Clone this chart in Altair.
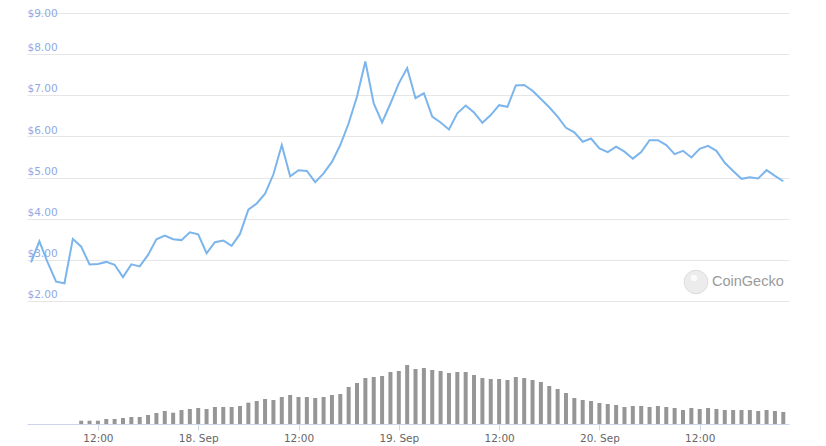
import altair as alt
import pandas as pd

# hourly prices (USD), 17 Sep 04:00 -> 20 Sep 22:00
price = [2.94, 3.45, 2.93, 2.47, 2.43, 3.51, 3.32, 2.89, 2.90, 2.95,
         2.88, 2.58, 2.89, 2.84, 3.12, 3.50, 3.59, 3.50, 3.48, 3.67,
         3.62, 3.16, 3.43, 3.47, 3.34, 3.63, 4.22, 4.37, 4.61, 5.08,
         5.79, 5.03, 5.18, 5.16, 4.89, 5.10, 5.38, 5.79, 6.32, 6.97,
         7.82, 6.80, 6.34, 6.80, 7.29, 7.66, 6.93, 7.05, 6.48, 6.34,
         6.17, 6.56, 6.75, 6.58, 6.33, 6.52, 6.76, 6.72, 7.24, 7.25,
         7.11, 6.91, 6.71, 6.48, 6.21, 6.10, 5.87, 5.95, 5.71, 5.62,
         5.75, 5.63, 5.46, 5.62, 5.91, 5.91, 5.79, 5.57, 5.65, 5.49,
         5.70, 5.77, 5.65, 5.36, 5.16, 4.97, 5.01, 4.98, 5.18, 5.04,
         4.91]

# hourly traded volume (relative units)
volume = [0, 0, 0, 0, 0, 0, 3.3, 3.3, 3.3, 5,
          5, 6, 7, 7, 9, 11, 13, 11.3, 14, 15,
          16, 15, 17, 17, 17, 18, 21.3, 23, 25, 24,
          27, 29, 27, 27, 26, 27, 29, 30, 37, 41,
          46, 47, 48, 52, 53, 59, 55, 56, 54, 53,
          51, 52, 52, 49, 46, 45, 45, 44, 47, 46,
          44, 42, 38, 35, 31, 26, 24, 23, 21, 20,
          19, 17, 18, 18, 17, 18, 17, 16, 14, 16,
          15, 16, 15, 14, 14, 14, 14, 13, 14, 13,
          12]

times = pd.date_range("2020-09-17 04:00", periods=len(price), freq="h")
df = pd.DataFrame({"time": times, "price": price, "volume": volume})

brand = ["CoinGecko"]
wm = pd.DataFrame({"label": brand})

x_scale = alt.Scale(domain=[alt.DateTime(year=2020, month=9, date=17, hours=3, minutes=31),
                            alt.DateTime(year=2020, month=9, date=20, hours=22, minutes=41)],
                    padding=0)

tick_vals = [alt.DateTime(year=2020, month=9, date=17, hours=12),
             alt.DateTime(year=2020, month=9, date=18, hours=0),
             alt.DateTime(year=2020, month=9, date=18, hours=12),
             alt.DateTime(year=2020, month=9, date=19, hours=0),
             alt.DateTime(year=2020, month=9, date=19, hours=12),
             alt.DateTime(year=2020, month=9, date=20, hours=0),
             alt.DateTime(year=2020, month=9, date=20, hours=12)]

FONT = "DejaVu Sans"

x_axis = alt.Axis(values=tick_vals, grid=False,
                  labelExpr="hours(datum.value) == 0 ? timeFormat(datum.value, '%-d. %b') : timeFormat(datum.value, '%H:%M')",
                  domainColor="#ccd6eb", domainWidth=1,
                  tickColor="#ccd6eb", tickSize=6, tickWidth=1,
                  labelColor="#666666", labelFont=FONT, labelFontSize=10.5,
                  labelPadding=3, labelFlush=False, labelOverlap=False)

bars = alt.Chart(df).mark_bar(width=4, color="#969696").encode(
    x=alt.X("time:T", scale=x_scale, title=None, axis=x_axis),
    y=alt.Y("volume:Q", scale=alt.Scale(domain=[0, 100], range=[411, 311], nice=False),
            axis=None),
)

line = alt.Chart(df).mark_line(color="#7cb5ec", strokeWidth=2).encode(
    x=alt.X("time:T", scale=x_scale, title=None, axis=x_axis),
    y=alt.Y("price:Q", scale=alt.Scale(domain=[2, 9], range=[288, 0], nice=False, zero=False),
            title=None,
            axis=alt.Axis(values=[2, 3, 4, 5, 6, 7, 8, 9], format="$.2f",
                          ticks=False, tickSize=0, domain=False,
                          grid=True, gridColor="#e6e6e6", gridWidth=1,
                          labelAlign="left", labelPadding=0,
                          labelBaseline="alphabetic",
                          labelOffset={"condition": {"test": "datum.value == 9", "value": 3.7}, "value": -3.3},
                          labelColor="#8eaae4", labelFont=FONT, labelFontSize=10.5)),
)

logo = alt.Chart(wm).mark_circle(size=560, fill="#ececec", stroke="#dcdcdc",
                                 strokeWidth=1, opacity=1).encode(
    x=alt.value(669), y=alt.value(269))

logo_eye = alt.Chart(wm).mark_circle(size=40, fill="#fafafa", opacity=1).encode(
    x=alt.value(667), y=alt.value(265))

logo_text = alt.Chart(wm).mark_text(align="left", baseline="middle", fontSize=14.5,
                                    font="Liberation Sans", color="#9a9a9a").encode(
    x=alt.value(685), y=alt.value(269), text="label:N")

chart = alt.layer(bars, line, logo, logo_eye, logo_text).resolve_scale(
    y="independent"
).properties(
    width=762, height=411,
    autosize=alt.AutoSizeParams(type="none"),
    padding={"left": 19, "top": 5, "right": 29, "bottom": 22},
).configure_view(strokeWidth=0)

chart.save("out.html", embed_options={"renderer": "svg", "actions": False})
